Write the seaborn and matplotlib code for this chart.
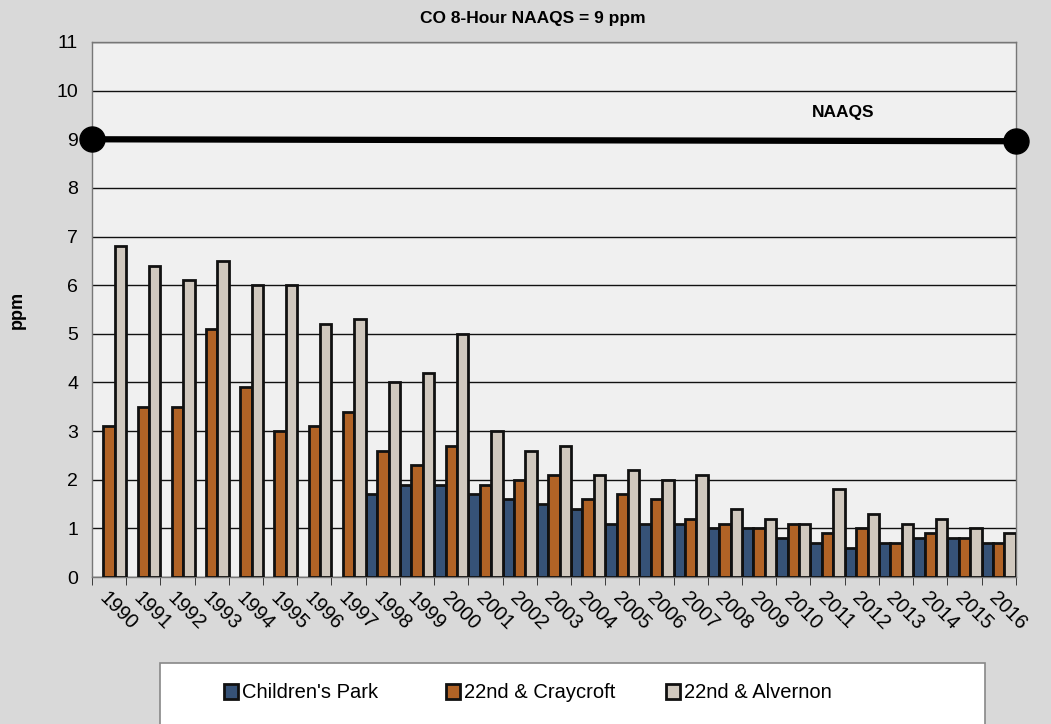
import numpy as np
import pandas as pd
import seaborn as sns
import matplotlib.pyplot as plt
from matplotlib.patches import Rectangle
from matplotlib.ticker import FixedLocator

years = [str(y) for y in range(1990, 2017)]
childrens_park = [np.nan] * 8 + [1.7, 1.9, 1.9, 1.7, 1.6, 1.5, 1.4, 1.1, 1.1, 1.1,
                                 1.0, 1.0, 0.8, 0.7, 0.6, 0.7, 0.8, 0.8, 0.7]
craycroft = [3.1, 3.5, 3.5, 5.1, 3.9, 3.0, 3.1, 3.4, 2.6, 2.3, 2.7, 1.9, 2.0, 2.1,
             1.6, 1.7, 1.6, 1.2, 1.1, 1.0, 1.1, 0.9, 1.0, 0.7, 0.9, 0.8, 0.7]
alvernon = [6.8, 6.4, 6.1, 6.5, 6.0, 6.0, 5.2, 5.3, 4.0, 4.2, 5.0, 3.0, 2.6, 2.7,
            2.1, 2.2, 2.0, 2.1, 1.4, 1.2, 1.1, 1.8, 1.3, 1.1, 1.2, 1.0, 0.9]
sites = ["Children's Park", "22nd & Craycroft", "22nd & Alvernon"]
naaqs = 9

df = pd.DataFrame({
    "year": years * 3,
    "site": np.repeat(sites, len(years)),
    "ppm": childrens_park + craycroft + alvernon,
})

sns.set_style("white")
plt.rcParams['font.family'] = ['Liberation Sans', 'DejaVu Sans']
plt.rcParams.update({"text.color": "black", "axes.labelcolor": "black",
                     "xtick.color": "black", "ytick.color": "black"})

fig = plt.figure(figsize=(10.51, 7.24), dpi=100, facecolor="#D9D9D9")
ax = fig.add_axes([0.0875, 0.203, 0.879, 0.739])
ax.set_facecolor("#F0F0F0")

palette = ["#2B5182", "#C8600F", "#D3C8BB"]
sns.barplot(data=df, x="year", y="ppm", hue="site", palette=palette, width=1.0,
            gap=0, edgecolor="#111111", linewidth=2.0, ax=ax, legend=True, zorder=3)

ax.set_ylim(0, 11)
ax.set_xlim(-0.5, len(years) - 0.5)
ax.set_yticks(range(0, 12))
ax.tick_params(axis="y", labelsize=14, length=0, pad=10)
ax.yaxis.grid(True, color="#111111", linewidth=1.0, zorder=0)
ax.set_axisbelow(True)

ax.set_xticks(range(len(years)))
ax.set_xticklabels(years, rotation=-45, ha="left", va="top", rotation_mode="anchor", fontsize=14.5)
ax.tick_params(axis="x", which="major", length=0, pad=8)
ax.xaxis.set_minor_locator(FixedLocator(np.arange(-0.5, len(years), 1)))
ax.tick_params(axis="x", which="minor", length=6, color="#222222", bottom=True)

for s in ax.spines.values():
    s.set_color("#777777")
    s.set_linewidth(1.0)

ax.set_xlabel("")
ax.set_ylabel("ppm", fontsize=13, fontweight="bold", labelpad=22)

ax.plot([-0.5, len(years) - 0.5], [naaqs, naaqs - 0.04], color="black", linewidth=4.5,
        marker="o", markersize=18, clip_on=False, zorder=5)
ax.text(21.45, 9.55, "NAAQS", fontsize=12.5, fontweight="bold", ha="center", va="center")

fig.text(0.507, 0.975, "CO 8-Hour NAAQS = 9 ppm", fontsize=12.5, fontweight="bold",
         ha="center", va="center")

# legend box spanning the bottom, entries placed like the original
fig.patches.append(Rectangle((160 / 1051, -0.05), 825 / 1051, 0.05 + 61 / 724,
                             transform=fig.transFigure, facecolor="white",
                             edgecolor="#888888", linewidth=1.2, zorder=1))
handles, labels = ax.get_legend_handles_labels()
ax.get_legend().remove()
for h, lab, xpos in zip(handles, labels, [214, 436, 656]):
    leg = fig.legend([h], [lab], loc="center left", bbox_to_anchor=(xpos / 1051, 1 - 693 / 724),
                     fontsize=14.5, frameon=False, handlelength=0.7, handleheight=0.7,
                     handletextpad=0.2, borderpad=0)

fig.savefig("out.png", dpi=100, facecolor=fig.get_facecolor())
